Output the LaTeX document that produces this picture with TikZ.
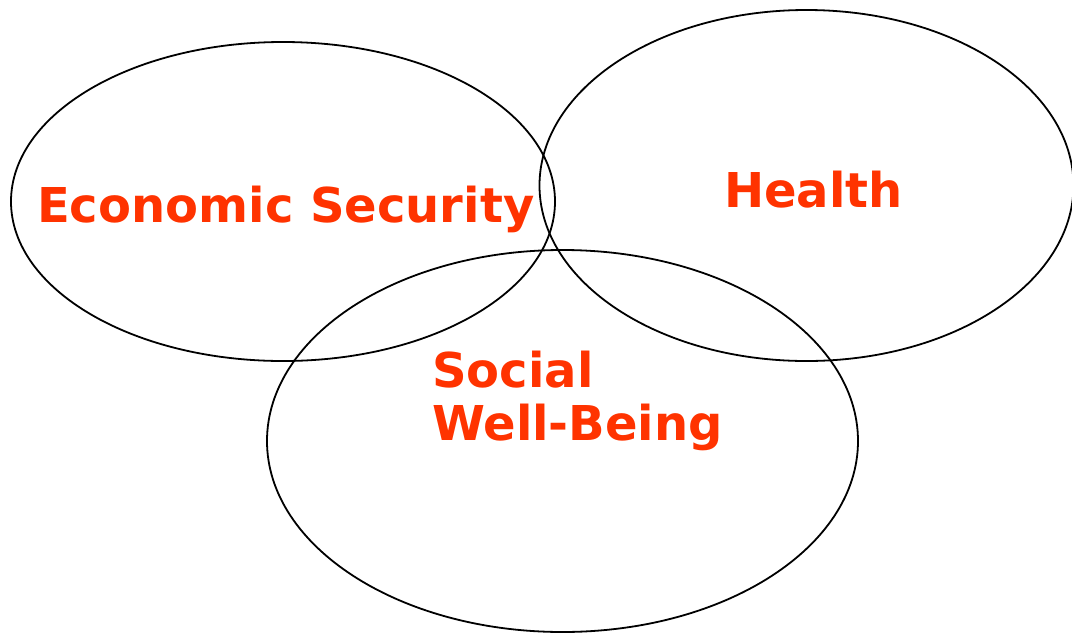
\documentclass[tikz,border=0pt]{standalone}
\usepackage{fontspec}
\setmainfont{DejaVu Sans}
\definecolor{lab}{HTML}{FF3300}
\begin{document}
\begin{tikzpicture}[x=1pt,y=-1pt,
  ring/.style={draw=black,line width=1.8pt},
  lbl/.style={text=lab,font=\fontsize{48}{53}\selectfont\bfseries,inner sep=0pt,anchor=base west,align=left}]
\useasboundingbox (0,0) rectangle (1072,633);
\draw[ring] (283,201.5) ellipse [x radius=272,y radius=159.5];
\draw[ring] (806.5,185.5) ellipse [x radius=267,y radius=175.5];
\draw[ring] (562.5,441) ellipse [x radius=295.5,y radius=191];
\node[lbl] (econ) at (37,222) {Economic Security};
\node[lbl] (health) at (724,207) {Health};
\node[lbl] (social) at (432,440) {Social\\Well-Being};
\end{tikzpicture}
\end{document}
